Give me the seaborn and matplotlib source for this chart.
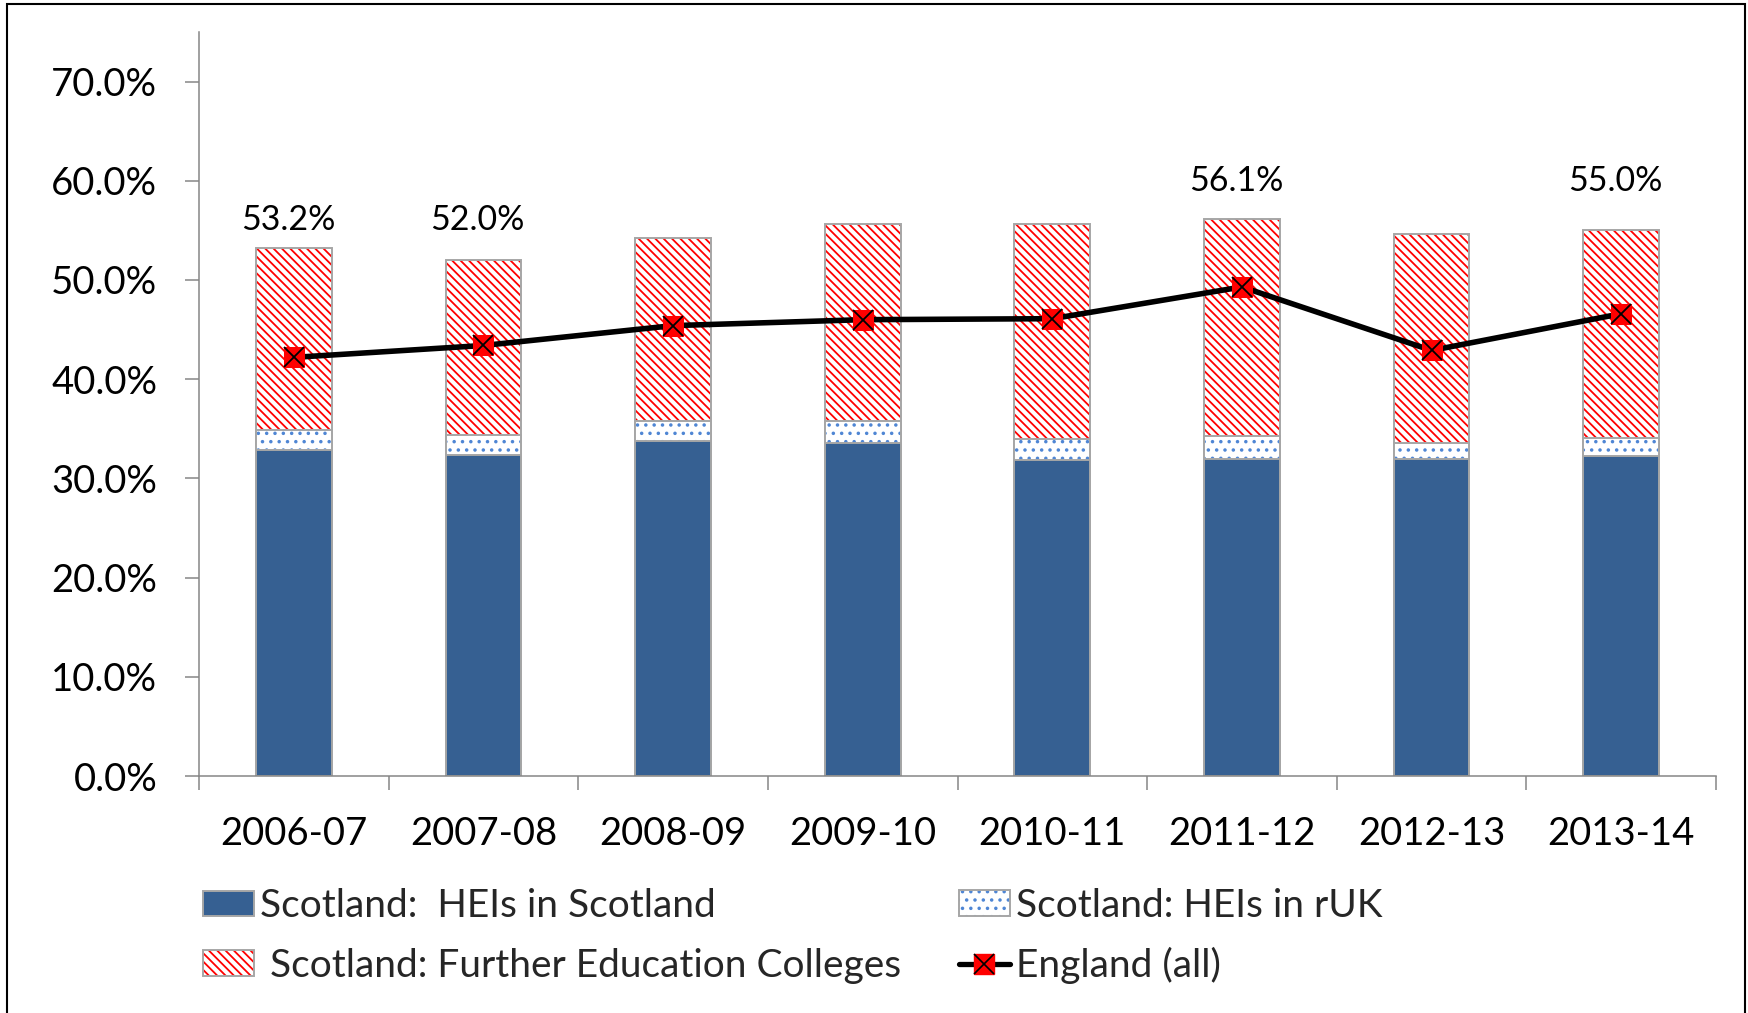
import numpy as np
import pandas as pd
import matplotlib
matplotlib.use("Agg")
import matplotlib.pyplot as plt
import seaborn as sns
from matplotlib.ticker import PercentFormatter, FixedLocator
from matplotlib.patches import Patch, Rectangle
from matplotlib.lines import Line2D
from matplotlib.legend_handler import HandlerTuple

# Participation shares (%) by academic year
years = ["2006-07", "2007-08", "2008-09", "2009-10",
         "2010-11", "2011-12", "2012-13", "2013-14"]
heis_scotland = [32.9, 32.4, 33.8, 33.6, 31.9, 32.0, 32.0, 32.3]
heis_ruk = [2.0, 2.0, 2.0, 2.2, 2.1, 2.3, 1.6, 1.8]
fe_colleges = [18.3, 17.6, 18.4, 19.8, 21.6, 21.8, 21.0, 20.9]
england_all = [42.2, 43.4, 45.4, 46.0, 46.1, 49.3, 42.9, 46.6]
labelled_years = ["2006-07", "2007-08", "2011-12", "2013-14"]

label_heis_sc = "Scotland:  HEIs in Scotland"
label_heis_ruk = "Scotland: HEIs in rUK"
label_fe = " Scotland: Further Education Colleges"
label_eng = "England (all)"

BLUE = "#366092"
DOT_BLUE = "#4F86D4"
RED = "#FF0000"
EDGE_GREY = "#A6A6A6"
AXIS_GREY = "#868686"
RED_HATCH = "\\\\\\\\"
DOT_HATCH = ".."

sns.set_theme(style="white")
plt.rcParams["font.family"] = ["Lato", "DejaVu Sans"]
plt.rcParams["hatch.linewidth"] = 1.3

df = pd.DataFrame({
    "year": years,
    "hei_sc": np.array(heis_scotland) / 100,
    "hei_ruk": np.array(heis_ruk) / 100,
    "fe": np.array(fe_colleges) / 100,
    "england": np.array(england_all) / 100,
})
df["hei_total"] = df["hei_sc"] + df["hei_ruk"]
df["total"] = df["hei_total"] + df["fe"]

fig = plt.figure(figsize=(17.48, 10.13), dpi=100)
ax = fig.add_axes([199 / 1748, 237 / 1013, 1517 / 1748, 744 / 1013])

BAR_W = 0.4


def restyle(container, **props):
    for p in container:
        p.set(**props)
        if "hatch" in props and hasattr(p, "set_hatchcolor"):
            p.set_hatchcolor(props["edgecolor"])


def bars(col):
    sns.barplot(data=df, x="year", y=col, ax=ax, width=BAR_W,
                color="white", saturation=1, errorbar=None)
    return ax.containers[-1]


# Stacked segments drawn back to front as cumulative heights
restyle(bars("total"), facecolor="white", edgecolor=RED, linewidth=0,
        hatch=RED_HATCH)
restyle(bars("total"), facecolor="none", edgecolor=EDGE_GREY, linewidth=1.4)
restyle(bars("hei_total"), facecolor="white", edgecolor=DOT_BLUE, linewidth=0,
        hatch=DOT_HATCH)
restyle(bars("hei_total"), facecolor="none", edgecolor=EDGE_GREY, linewidth=1.4)
restyle(bars("hei_sc"), facecolor=BLUE, edgecolor=EDGE_GREY, linewidth=1.4)

# England line with square markers and a cross on top
sns.lineplot(data=df, x="year", y="england", ax=ax, sort=False, errorbar=None)
ax.lines[-1].set(color="black", linewidth=4.0, marker="s", markersize=15,
                 markerfacecolor=RED, markeredgecolor=RED, zorder=5)
sns.lineplot(data=df, x="year", y="england", ax=ax, sort=False, errorbar=None)
ax.lines[-1].set(linestyle="None", marker="x", markersize=14.5,
                 markeredgecolor="black", markeredgewidth=1.3, zorder=6)

# Total labels above selected bars
label_height = {"2006-07": 0.56, "2007-08": 0.56, "2011-12": 0.60, "2013-14": 0.60}
for i, yr in enumerate(years):
    if yr in labelled_years:
        tot = df.loc[i, "total"]
        ax.text(i - 0.03, label_height[yr], f"{tot * 100:.1f}%",
                ha="center", va="center", fontsize=24.5, color="black")

# Axes styling
ax.set_xlim(-0.5, len(years) - 0.5)
ax.set_ylim(0, 0.75)
ax.set_yticks(np.arange(0, 0.71, 0.1))
ax.yaxis.set_major_formatter(PercentFormatter(xmax=1, decimals=1))
ax.xaxis.set_minor_locator(FixedLocator(np.arange(-0.5, len(years), 1.0)))
ax.set_xlabel("")
ax.set_ylabel("")
for side in ["top", "right"]:
    ax.spines[side].set_visible(False)
for side in ["left", "bottom"]:
    ax.spines[side].set_color(AXIS_GREY)
    ax.spines[side].set_linewidth(1.1)
ax.tick_params(axis="y", which="major", left=True, length=10, width=1.1,
               color=AXIS_GREY, pad=20, labelsize=27.5, labelcolor="black",
               direction="out")
ax.tick_params(axis="x", which="major", bottom=True, length=0, pad=29,
               labelsize=27.5, labelcolor="black")
ax.tick_params(axis="x", which="minor", bottom=True, length=10, width=1.1,
               color=AXIS_GREY, direction="out")
ax.grid(False)

# Legend in two independent columns
h_blue = Patch(facecolor=BLUE, edgecolor=EDGE_GREY, linewidth=1.4)
h_red = (Patch(facecolor="white", edgecolor=RED, linewidth=0, hatch=RED_HATCH),
         Patch(facecolor="none", edgecolor=EDGE_GREY, linewidth=1.4))
h_dot = (Patch(facecolor="white", edgecolor=DOT_BLUE, linewidth=0, hatch=DOT_HATCH),
         Patch(facecolor="none", edgecolor=EDGE_GREY, linewidth=1.4))
h_eng = (Line2D([], [], color="black", linewidth=3.8, marker="s", markersize=15,
                markerfacecolor=RED, markeredgecolor=RED),
         Line2D([], [], linestyle="None", marker="x", markersize=14,
                markeredgecolor="black", markeredgewidth=1.2))

leg_kw = dict(loc="center left", frameon=False, borderpad=0, borderaxespad=0,
              fontsize=28, handlelength=1.31, handleheight=0.62,
              handletextpad=0.15, labelspacing=0.6,
              bbox_transform=fig.transFigure,
              handler_map={tuple: HandlerTuple(ndivide=1, pad=0)})
leg_y = 1 - 936 / 1013
fig.legend(handles=[h_blue, h_red], labels=[label_heis_sc, label_fe],
           bbox_to_anchor=(203 / 1748, leg_y), **leg_kw)
fig.legend(handles=[h_dot, h_eng], labels=[label_heis_ruk, label_eng],
           bbox_to_anchor=(959 / 1748, leg_y), **leg_kw)

# Outer frame around the chart
fig.patches.append(Rectangle((7 / 1748, -0.02), 1738 / 1748, 1 - 4 / 1013 + 0.02,
                             transform=fig.transFigure, fill=False,
                             edgecolor="black", linewidth=1.5))

fig.savefig("out.png", dpi=100)
